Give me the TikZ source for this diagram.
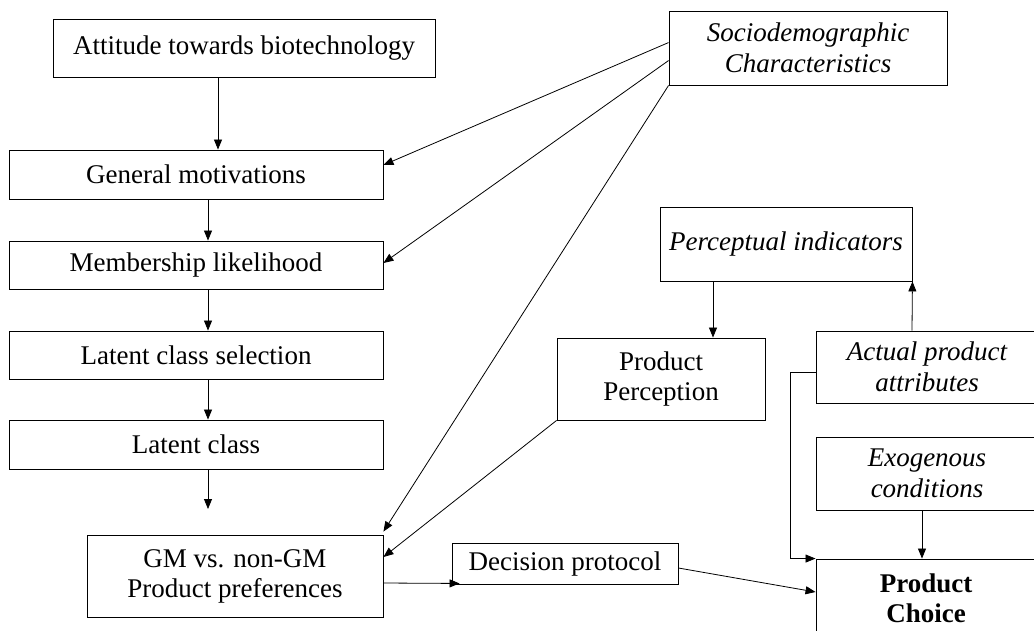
\documentclass[tikz,border=0pt]{standalone}
\usepackage{fontspec}
\setmainfont{Liberation Serif}
\usetikzlibrary{arrows.meta}
\tikzset{
  x=1pt, y=1pt,
  box/.style={draw, line width=0.9pt, inner sep=0pt, align=center,
    font=\fontsize{27}{30}\selectfont},
  arr/.style={line width=0.8pt, -{Triangle[length=10pt,width=8pt]}},
  ln/.style={line width=0.8pt}
}
\begin{document}
\begin{tikzpicture}
\clip (0,0) rectangle (1034,-630);
\fill[white] (0,0) rectangle (1034,-630);
% left column
\node[box, minimum width=382, minimum height=58] (att) at (244,-48) {Attitude towards biotechnology};
\node[box, minimum width=374, minimum height=49] (gen) at (196,-174.5) {General motivations};
\node[box, minimum width=374, minimum height=48] (mem) at (196,-265) {Membership likelihood};
\node[box, minimum width=374, minimum height=48] (lcs) at (196,-355) {Latent class selection};
\node[box, minimum width=374, minimum height=49] (lc) at (196,-444.5) {Latent class};
\node[box, minimum width=296, minimum height=82] (gm) at (235,-576) {GM vs. non-GM\\Product preferences};
\coordinate (lcend) at (208,-509);
% right side
\node[box, minimum width=278, minimum height=74, font=\fontsize{27}{31}\selectfont\itshape] (socio) at (808,-48) {Sociodemographic\\Characteristics};
\node[box, minimum width=252, minimum height=74, font=\fontsize{27}{30}\selectfont\itshape] (pi) at (786,-244) {Perceptual indicators};
\node[box, minimum width=208, minimum height=82] (pp) at (661,-379) {Product\\Perception};
\node[box, minimum width=222, minimum height=72, font=\fontsize{27}{31}\selectfont\itshape] (act) at (927,-367) {Actual product\\attributes};
\node[box, minimum width=222, minimum height=73, font=\fontsize{27}{31}\selectfont\itshape] (exo) at (927,-473.5) {Exogenous\\conditions};
\node[box, minimum width=220, minimum height=78, font=\fontsize{27}{30}\selectfont\bfseries] (pc) at (926,-598) {Product\\Choice};
\node[box, minimum width=226, minimum height=41] (dec) at (565,-563.5) {Decision protocol};
% connectors
\draw[arr] ([xshift=-26pt]att.south) -- ([xshift=22pt]gen.north);
\draw[arr] ([xshift=12pt]gen.south) -- ([xshift=12pt]mem.north);
\draw[arr] ([xshift=12pt]mem.south) -- ([xshift=12pt]lcs.north);
\draw[arr] ([xshift=12pt]lcs.south) -- ([xshift=12pt]lc.north);
\draw[arr] ([xshift=12pt]lc.south) -- (lcend);
\draw[arr] ([yshift=-32pt]socio.north west) -- ([yshift=9.5pt]gen.east);
\draw[arr] ([yshift=-50pt]socio.north west) -- ([yshift=2pt]mem.east);
\draw[arr] (socio.south west) -- ([yshift=3pt]gm.north east);
\draw[arr] ([xshift=-73pt]pi.south) -- ([xshift=52pt]pp.north);
\draw[arr] ([xshift=-15pt]act.north) -- (pi.south east);
\draw[arr] (pp.south west) -- ([yshift=19pt]gm.east);
\draw[arr] ([yshift=-5pt]act.west) -- ++(-25,0) |- (pc.north west);
\draw[arr] ([xshift=-5pt]exo.south) -- ([xshift=-4pt]pc.north);
\draw[arr] ([yshift=-7pt]gm.east) -- ([xshift=8pt,yshift=1pt]dec.south west);
\draw[arr] ([yshift=-4.5pt]dec.east) -- ([yshift=6pt]pc.west);
\end{tikzpicture}
\end{document}
